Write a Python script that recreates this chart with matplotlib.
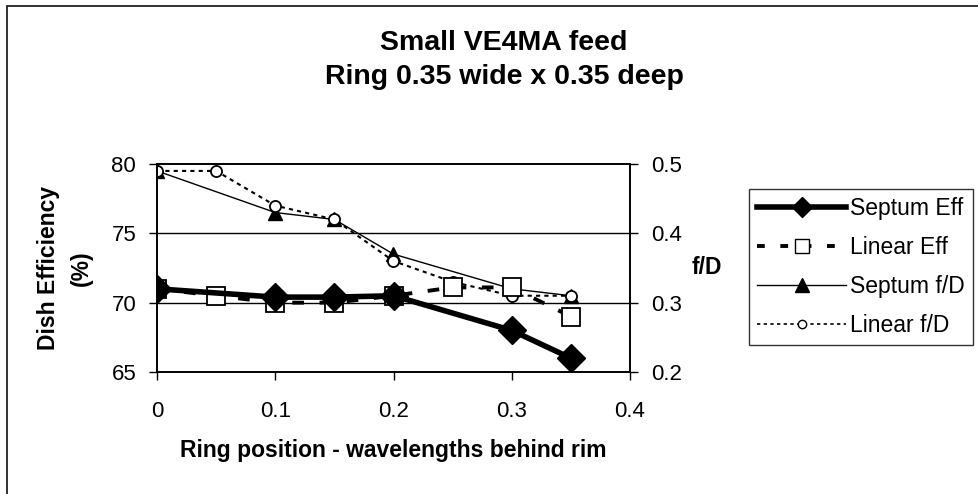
"""Small VE4MA feed: dish efficiency and f/D vs ring position."""
import matplotlib
matplotlib.use("Agg")
import matplotlib.pyplot as plt
from matplotlib.patches import Rectangle
from matplotlib.lines import Line2D

plt.rcParams["font.family"] = ["Liberation Sans", "DejaVu Sans"]

# data
septum_pos = [0, 0.1, 0.15, 0.2, 0.3, 0.35]
septum_eff = [71.0, 70.4, 70.4, 70.5, 68.0, 66.0]
septum_fd = [0.49, 0.43, 0.42, 0.37, 0.32, 0.31]

linear_pos = [0, 0.05, 0.1, 0.15, 0.2, 0.25, 0.3, 0.35]
linear_eff = [71.0, 70.5, 70.0, 70.0, 70.5, 71.1, 71.1, 69.0]
linear_fd = [0.49, 0.49, 0.44, 0.42, 0.36, 0.33, 0.31, 0.31]

x_ticks = [0, 0.1, 0.2, 0.3, 0.4]
x_labels = ["0", "0.1", "0.2", "0.3", "0.4"]
eff_ticks = [65, 70, 75, 80]
fd_ticks = [0.2, 0.3, 0.4, 0.5]
fd_labels = ["0.2", "0.3", "0.4", "0.5"]

W, H = 979, 494
fig = plt.figure(figsize=(W / 100, H / 100), dpi=100)

# outer chart border (chart is cropped on the right and bottom)
fig.patches.append(Rectangle((7 / W, -0.05), 1.1, 1 - 6 / H + 0.05,
                             transform=fig.transFigure, fill=False,
                             edgecolor="#222222", lw=1.3))

ax = fig.add_axes([157 / W, 1 - 372 / H, (630 - 157) / W, (372 - 164) / H])
ax2 = ax.twinx()

ax.set_xlim(0, 0.4)
ax.set_ylim(65, 80)
ax2.set_ylim(0.2, 0.5)

for y in [70, 75]:
    ax.axhline(y, color="black", lw=1.0, zorder=0)

ax.set_xticks(x_ticks)
ax.set_xticklabels(x_labels)
ax.set_yticks(eff_ticks)
ax2.set_yticks(fd_ticks)
ax2.set_yticklabels(fd_labels)

for a in (ax, ax2):
    a.tick_params(direction="out", length=6, width=1.0, labelsize=16, pad=9)
    for s in a.spines.values():
        s.set_linewidth(1.2)
ax.tick_params(axis="x", pad=15)

ax.set_zorder(ax2.get_zorder() + 1)
ax.patch.set_visible(False)

# f/D series (right axis)
ax2.plot(septum_pos, septum_fd, color="black", lw=1.0, marker="^", ms=10,
         mfc="black", mec="black")
ax2.plot(linear_pos, linear_fd, color="black", lw=1.5, dashes=(2, 2),
         marker="o", ms=8, mfc="white", mec="black", mew=1.3)

# efficiency series (left axis)
ax.plot(linear_pos, linear_eff, color="black", lw=2.8, dashes=(3, 4),
        marker="s", ms=13, mfc="white", mec="black", mew=1.3, zorder=3)
ax.plot(septum_pos, septum_eff, color="black", lw=4.0, marker="D", ms=14,
        mfc="black", mec="black", zorder=4)

fig.text(504 / W, 1 - 43 / H, "Small VE4MA feed", ha="center", va="center",
         fontsize=20.5, fontweight="bold")
fig.text(504 / W, 1 - 77 / H, "Ring 0.35 wide x 0.35 deep", ha="center",
         va="center", fontsize=20.5, fontweight="bold")
fig.text(393 / W, 1 - 450 / H, "Ring position - wavelengths behind rim",
         ha="center", va="center", fontsize=16.5, fontweight="bold")
fig.text(65 / W, 1 - 268 / H, "Dish Efficiency\n(%)", ha="center",
         va="center", rotation=90, fontsize=16.5, fontweight="bold",
         linespacing=1.5)
fig.text(707 / W, 1 - 268 / H, "f/D", ha="center", va="center",
         fontsize=16.5, fontweight="bold")

handles = [
    Line2D([], [], color="black", lw=4.0, marker="D", ms=10, mfc="black"),
    Line2D([], [], color="black", lw=2.8, dashes=(2, 4), marker="s", ms=10,
           mfc="white", mec="black"),
    Line2D([], [], color="black", lw=1.0, marker="^", ms=10, mfc="black"),
    Line2D([], [], color="black", lw=1.2, dashes=(2, 2), marker="o", ms=6,
           mfc="white", mec="black"),
]
labels = ["Septum Eff", "Linear Eff", "Septum f/D", "Linear f/D"]
leg = fig.legend(handles, labels, loc="upper left",
                 bbox_to_anchor=(749 / W, 1 - 189 / H), fontsize=16.5,
                 frameon=True, fancybox=False, edgecolor="black",
                 handlelength=3.9, handletextpad=0.15, labelspacing=0.7,
                 borderpad=0.35, borderaxespad=0)
leg.get_frame().set_linewidth(1.0)

fig.savefig("out.png", dpi=100)
